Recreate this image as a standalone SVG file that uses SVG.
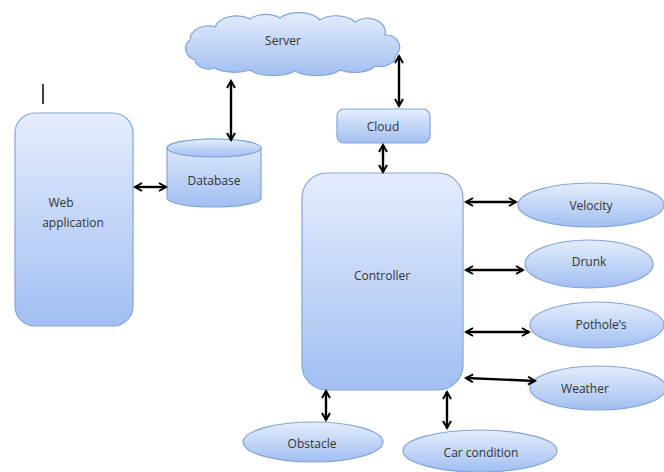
<svg xmlns="http://www.w3.org/2000/svg" width="664" height="472" viewBox="0 0 664 472">
<defs>
<linearGradient id="g" x1="0" y1="0" x2="0" y2="1">
<stop offset="0" stop-color="#e4edfc"/>
<stop offset="1" stop-color="#a2bff2"/>
</linearGradient>
<marker id="ah" viewBox="0 0 10 10" refX="8" refY="5" markerWidth="10" markerHeight="10" markerUnits="userSpaceOnUse" orient="auto-start-reverse">
<path d="M1,1 L8,5 L1,9" fill="none" stroke="#000" stroke-width="2"/>
</marker>
</defs>
<style>
.n{fill:url(#g);stroke:#82a4dc;stroke-width:1.2}
.t{font-family:"Open Sans","Liberation Sans",sans-serif;font-size:12px;fill:#333;text-anchor:middle;dominant-baseline:central}
.c{stroke:#000;stroke-width:2.4;fill:none;marker-start:url(#ah);marker-end:url(#ah)}
</style>
<rect width="664" height="472" fill="#fff"/>
<line x1="43" y1="84" x2="43" y2="104" stroke="#000" stroke-width="1.5"/>
<g id="server">
<path class="n" d="M195,60 A14,12 0 0 1 190,40 A18,14 0 0 1 215,27 A22,14 0 0 1 250,19 A20,12 0 0 1 280,18 A24,14 0 0 1 320,20 A22,13 0 0 1 355,22 A18,14 0 0 1 385,35 A14,12 0 0 1 396,55 A16,12 0 0 1 375,66 A22,10 0 0 1 340,70 A26,10 0 0 1 295,71 A26,10 0 0 1 250,70 A24,10 0 0 1 215,68 A14,10 0 0 1 195,60 Z"/>
<text class="t" x="283" y="40">Server</text>
</g>
<g id="cloud">
<rect class="n" x="337" y="109" width="93" height="34" rx="7"/>
<text class="t" x="383" y="126">Cloud</text>
</g>
<g id="webapp">
<rect class="n" x="15" y="113" width="118" height="213" rx="20"/>
<text class="t" x="61" y="202">Web</text>
<text class="t" x="73" y="222">application</text>
</g>
<g id="database">
<path class="n" d="M167,148 L167,198 A47,9 0 0 0 261,198 L261,148 A47,9 0 0 0 167,148 Z"/>
<ellipse class="n" cx="214" cy="148" rx="47" ry="9"/>
<text class="t" x="214" y="180">Database</text>
</g>
<g id="controller">
<rect class="n" x="302" y="173" width="161" height="217" rx="25"/>
<text class="t" x="382" y="275">Controller</text>
</g>
<g id="velocity">
<ellipse class="n" cx="591" cy="205" rx="73" ry="22"/>
<text class="t" x="591" y="205">Velocity</text>
</g>
<g id="drunk">
<ellipse class="n" cx="589" cy="264" rx="64" ry="24"/>
<text class="t" x="589" y="261">Drunk</text>
</g>
<g id="potholes">
<ellipse class="n" cx="597" cy="325" rx="67" ry="23"/>
<text class="t" x="601" y="324">Pothole’s</text>
</g>
<g id="weather">
<ellipse class="n" cx="598" cy="388" rx="68" ry="22"/>
<text class="t" x="585" y="388">Weather</text>
</g>
<g id="obstacle">
<ellipse class="n" cx="313" cy="442" rx="70" ry="20"/>
<text class="t" x="312" y="443">Obstacle</text>
</g>
<g id="carcondition">
<ellipse class="n" cx="480" cy="451" rx="77" ry="21"/>
<text class="t" x="481" y="452">Car condition</text>
</g>
<g id="connectors">
<line class="c" x1="231" y1="81" x2="231" y2="140"/>
<line class="c" x1="399" y1="56" x2="399" y2="106"/>
<line class="c" x1="383" y1="145" x2="383" y2="172"/>
<line class="c" x1="135" y1="187" x2="166" y2="187"/>
<line class="c" x1="466" y1="202" x2="516" y2="202"/>
<line class="c" x1="466" y1="270" x2="523" y2="270"/>
<line class="c" x1="466" y1="332" x2="529" y2="332"/>
<line class="c" x1="466" y1="378" x2="535" y2="381"/>
<line class="c" x1="326" y1="391" x2="326" y2="420"/>
<line class="c" x1="447" y1="392" x2="447" y2="428"/>
</g>
</svg>
